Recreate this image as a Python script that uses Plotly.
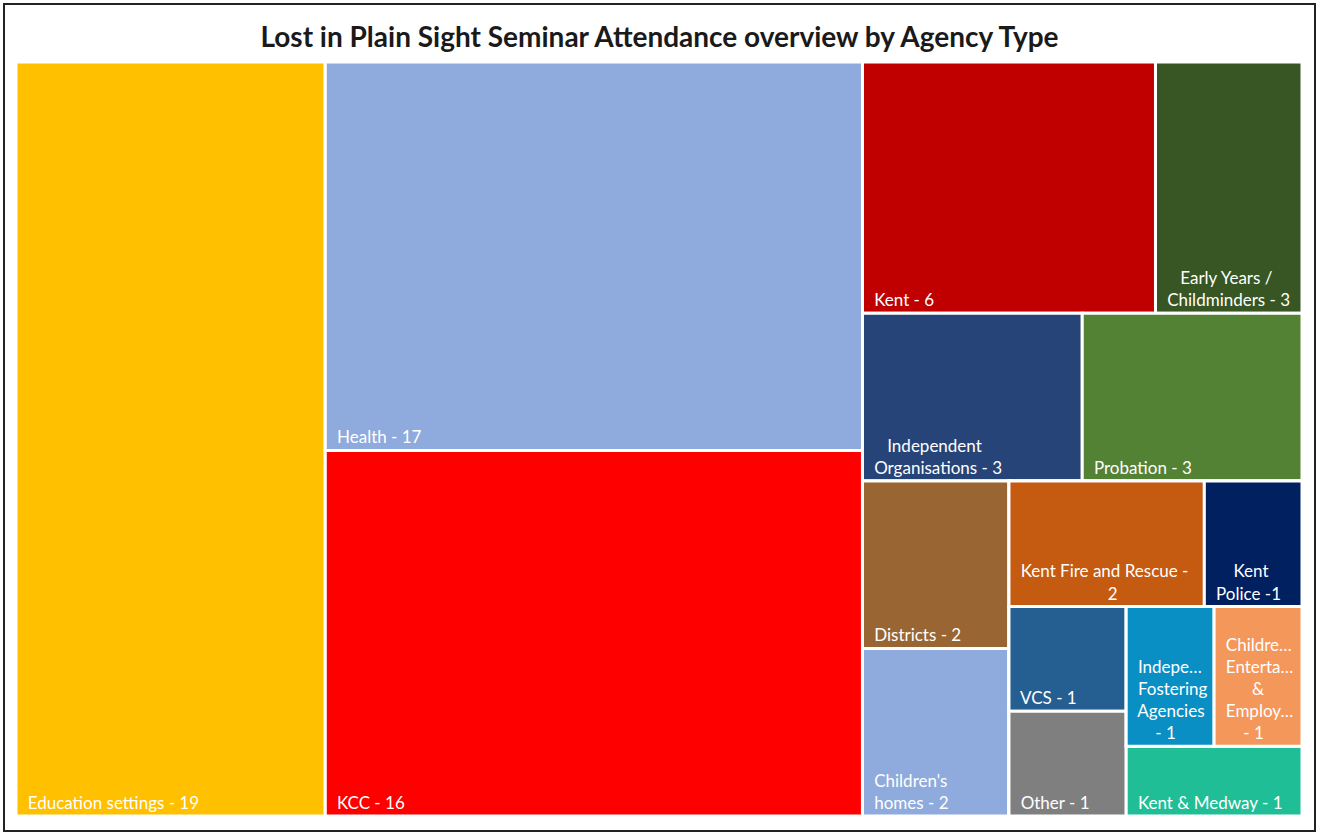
import plotly.graph_objects as go

# ---- data ----
categories = ["Education settings", "Health", "KCC", "Kent", "Early Years / Childminders",
              "Independent Organisations", "Probation", "Districts", "Children's homes",
              "Kent Fire and Rescue", "Kent Police", "VCS", "Other",
              "Independent Fostering Agencies", "Children Entertainment & Employment",
              "Kent & Medway"]
values = [19, 17, 16, 6, 3, 3, 3, 2, 2, 2, 1, 1, 1, 1, 1, 1]
NB = "\u00a0"
tile_labels = ["Education settings - 19", "Health - 17", "KCC - 16", "Kent - 6",
               NB * 3 + "Early Years /<br>Childminders - 3",
               NB * 3 + "Independent<br>Organisations - 3",
               "Probation - 3", "Districts - 2", "Children's<br>homes - 2",
               "Kent Fire and Rescue -<br>" + NB * 20 + "2",
               NB * 4 + "Kent<br>Police -1", "VCS - 1", "Other - 1",
               "Indepe…<br>Fostering<br>Agencies<br>" + NB * 4 + "- 1",
               "Childre…<br>Enterta…<br>" + NB * 6 + "&<br>Employ…<br>" + NB * 4 + "- 1",
               "Kent & Medway - 1"]
colors = ["#FFC000", "#8FAADC", "#FF0000", "#C00000", "#375623", "#264478", "#548235",
          "#996633", "#8FAADC", "#C55A11", "#002060", "#255E91", "#7F7F7F",
          "#0A8FC4", "#F4975B", "#20BE96"]
title = "Lost in Plain Sight Seminar Attendance overview by Agency Type"

# ---- tiling structure (groups so the library reproduces the nested slice/dice layout) ----
order = {
    "G_all": [("l", 0), ("g", "G_hk"), ("g", "G_rest")],
    "G_hk": [("l", 1), ("l", 2)],
    "G_rest": [("g", "R1"), ("g", "R2"), ("g", "R3")],
    "R1": [("l", 3), ("l", 4)],
    "R2": [("l", 5), ("l", 6)],
    "R3": [("g", "C1"), ("g", "C2")],
    "C1": [("l", 7), ("l", 8)],
    "C2": [("g", "D1"), ("g", "D2")],
    "D1": [("l", 9), ("l", 10)],
    "D2": [("g", "E1"), ("g", "E2")],
    "E1": [("l", 11), ("l", 12)],
    "E2": [("g", "F1"), ("l", 15)],
    "F1": [("l", 13), ("l", 14)],
}

ids, parents, vals, texts, cols, labels = [], [], [], [], [], []


def subtotal(gid):
    s = 0
    for kind, ref in order[gid]:
        s += values[ref] if kind == "l" else subtotal(ref)
    return s


def walk(gid, par):
    ids.append(gid); parents.append(par); vals.append(subtotal(gid))
    texts.append(""); cols.append("#FFFFFF"); labels.append(gid)
    for kind, ref in order[gid]:
        if kind == "g":
            walk(ref, gid)
        else:
            ids.append("leaf%d" % ref); parents.append(gid); vals.append(values[ref])
            texts.append(NB * 2 + tile_labels[ref].replace("<br>", "<br>" + NB * 2))
            cols.append(colors[ref]); labels.append(categories[ref])


walk("G_all", "")

fig = go.Figure(go.Treemap(
    ids=ids, labels=labels, parents=parents, values=vals,
    branchvalues="total", sort=False,
    text=texts, textinfo="text", texttemplate="%{text}",
    textposition="bottom left",
    textfont=dict(family="Lato, Open Sans, sans-serif", size=17, color="white"),
    marker=dict(colors=cols, line=dict(color="white", width=3),
                pad=dict(t=0, l=0, r=0, b=0)),
    tiling=dict(packing="slice-dice", pad=0),
    pathbar=dict(visible=False),
    root=dict(color="white"),
    hoverinfo="label+value",
))

W, H = 1319, 836
ml, mr, mt, mb = 16, 17, 62, 20
pw, ph = W - ml - mr, H - mt - mb


def px_x(x):
    return (x - ml) / pw


def px_y(y):
    return 1 - (y - mt) / ph


fig.update_layout(
    width=W, height=H,
    margin=dict(l=ml, r=mr, t=mt, b=mb),
    paper_bgcolor="white",
    title=dict(text="<b>" + title + "</b>", x=0.5, xanchor="center",
               y=1 - 37 / H, yanchor="middle", yref="container",
               font=dict(family="Lato, Open Sans, sans-serif", size=28, color="#1a1a1a")),
    shapes=[dict(type="rect", xref="paper", yref="paper",
                 x0=px_x(4), x1=px_x(1315), y0=px_y(831), y1=px_y(4),
                 line=dict(color="#222222", width=2), fillcolor="rgba(0,0,0,0)",
                 layer="above")],
)

fig.write_html("out.html", config={"displayModeBar": False},
               post_script="document.body.style.margin='0';")
